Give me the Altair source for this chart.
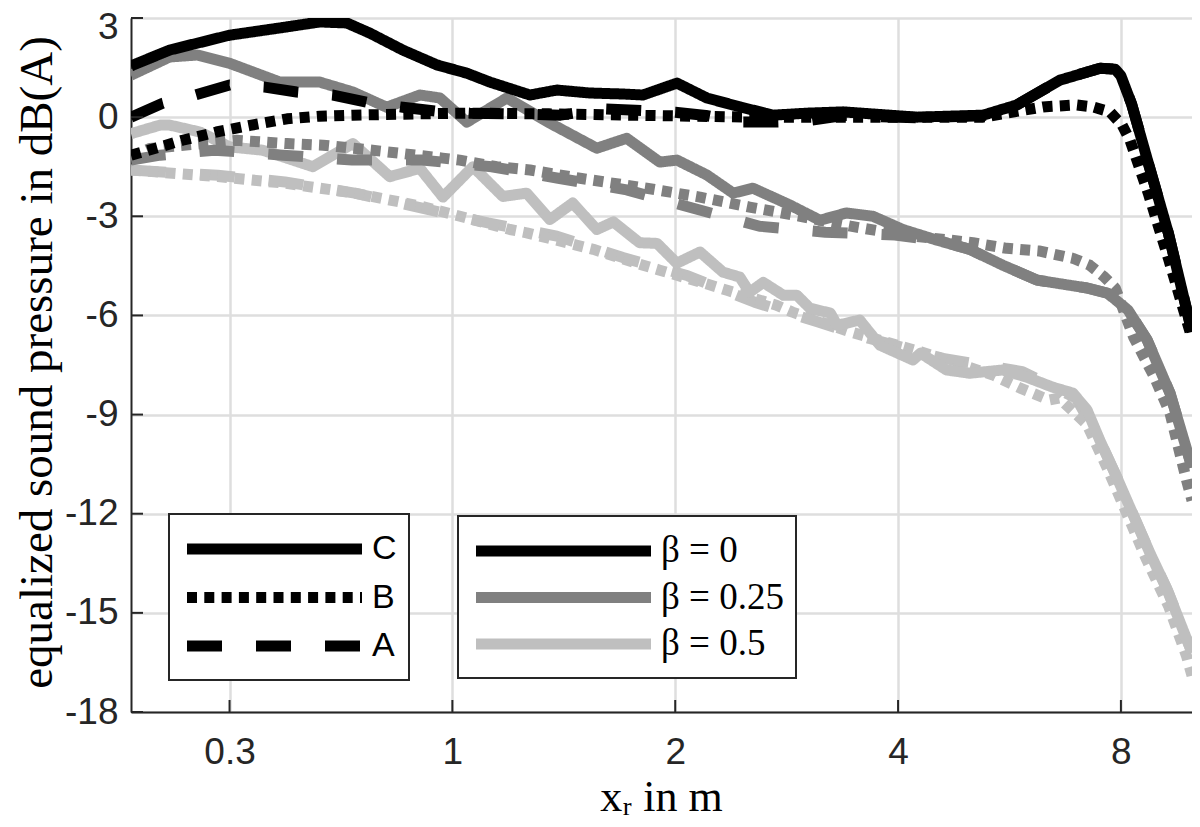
import altair as alt
import pandas as pd

# ---- categories / styles ----
beta_labels = ["β = 0", "β = 0.25", "β = 0.5"]
beta_colors = ["#000000", "#808080", "#bfbfbf"]
model_labels = ["C", "B", "A"]
dash_patterns = [[1, 0], [10, 7.3], [35, 34]]

x_ticks = [0.5, 1, 2, 4, 8]
x_tick_labels = ["0.3", "1", "2", "4", "8"]
y_ticks = [-18, -15, -12, -9, -6, -3, 0, 3]

# ---- beta = 0 ----
c0_x = [0.368, 0.415, 0.50, 0.585, 0.662, 0.720, 0.774, 0.857, 0.953, 1.046, 1.124, 1.273, 1.384, 1.534,
        1.700, 1.809, 2.011, 2.207, 2.446, 2.711, 3.013, 3.37, 4.243, 5.21, 5.79, 6.62, 7.50, 7.86, 8.0,
        8.27, 8.74, 9.27, 9.98]
c0_y = [1.55, 2.03, 2.48, 2.70, 2.88, 2.85, 2.54, 2.03, 1.58, 1.33, 1.06, 0.67, 0.82, 0.73, 0.70, 0.67,
        1.03, 0.58, 0.31, 0.06, 0.12, 0.16, 0.0, 0.06, 0.37, 1.12, 1.48, 1.45, 1.25, 0.4, -1.5, -3.5, -6.5]
a0_x = [0.368, 0.406, 0.449, 0.50, 0.558, 0.616, 0.690, 0.766, 0.857, 0.95, 1.056, 1.2, 1.4, 1.6, 1.8,
        2.0, 2.2, 2.45, 2.7, 3.0, 3.37, 4.243, 5.21, 5.79, 6.62, 7.50, 7.86, 8.0, 8.27, 8.74, 9.27, 9.98]
a0_y = [0.0, 0.42, 0.67, 0.97, 0.91, 0.76, 0.67, 0.45, 0.30, 0.18, 0.12, 0.10, 0.06, 0.25, 0.2, 0.15,
        0.05, -0.15, -0.15, -0.12, 0.05, -0.02, 0.04, 0.37, 1.12, 1.48, 1.45, 1.25, 0.4, -1.5, -3.5, -6.5]
b0_x = [0.368, 0.403, 0.432, 0.48, 0.533, 0.598, 0.662, 0.734, 0.904, 1.056, 1.35, 1.85, 2.52, 3.45,
        5.21, 6.28, 6.96, 7.33, 7.73, 8.03, 8.23, 8.71, 9.28, 9.98]
b0_y = [-1.15, -0.9, -0.7, -0.45, -0.25, -0.05, 0.03, 0.06, 0.1, 0.12, 0.1, 0.05, 0.0, 0.0, 0.0, 0.31,
        0.37, 0.31, 0.16, -0.24, -0.7, -2.3, -4.3, -6.7]

# ---- beta = 0.25 ----
c1_x = [0.368, 0.415, 0.452, 0.50, 0.585, 0.662, 0.734, 0.815, 0.904, 0.962, 1.046, 1.185, 1.354, 1.567,
        1.72, 1.906, 2.011, 2.207, 2.395, 2.547, 2.858, 3.137, 3.404, 3.70, 4.06, 4.51, 5.0, 5.54, 6.16,
        7.20, 7.68, 8.18, 8.68, 9.32, 9.98]
c1_y = [1.27, 1.82, 1.88, 1.63, 1.06, 1.06, 0.76, 0.3, 0.67, 0.58, -0.15, 0.58, -0.18, -0.94, -0.64,
        -1.36, -1.3, -1.75, -2.3, -2.15, -2.66, -3.12, -2.9, -3.0, -3.4, -3.72, -4.0, -4.48, -4.93, -5.17,
        -5.33, -5.84, -6.74, -8.35, -10.6]
a1_x = [0.368, 0.403, 0.477, 0.59, 0.732, 0.91, 1.13, 1.39, 1.72, 2.11, 2.6, 3.19, 3.96, 4.51, 5.0,
        5.54, 6.16, 7.20, 7.68, 8.18, 8.68, 9.32, 9.98]
a1_y = [-1.3, -1.15, -1.0, -1.15, -1.3, -1.3, -1.5, -1.85, -2.2, -2.75, -3.3, -3.48, -3.57, -3.72, -4.0,
        -4.48, -4.93, -5.17, -5.33, -5.84, -6.74, -8.35, -10.6]
b1_x = [0.368, 0.39, 0.511, 0.598, 0.669, 0.78, 0.97, 1.023, 1.148, 1.273, 1.487, 1.83, 2.16, 2.52, 2.95,
        3.45, 4.02, 5.05, 5.61, 6.2, 6.89, 7.26, 7.6, 7.86, 8.32, 8.88, 9.32, 9.81, 9.98]
b1_y = [-1.2, -0.95, -0.7, -0.8, -0.85, -1.0, -1.24, -1.3, -1.5, -1.6, -1.85, -2.15, -2.42, -2.72, -3.0,
        -3.3, -3.55, -3.8, -3.97, -4.05, -4.27, -4.48, -4.84, -5.17, -6.65, -7.87, -8.96, -10.98, -11.6]

# ---- beta = 0.5 ----
c2_x = [0.368, 0.403, 0.415, 0.456, 0.50, 0.554, 0.609, 0.648, 0.734, 0.823, 0.904, 0.971, 1.066, 1.17,
        1.26, 1.354, 1.454, 1.567, 1.65, 1.79, 1.89, 2.01, 2.16, 2.32, 2.445, 2.52, 2.63, 2.8, 2.92, 3.04,
        3.24, 3.31, 3.55, 3.78, 4.19, 4.29, 4.65, 5.0, 5.54, 5.97, 6.47, 6.89, 7.2, 7.5, 7.9, 8.3, 8.76,
        9.24, 9.7, 9.98]
c2_y = [-0.5, -0.24, -0.24, -0.45, -0.9, -1.0, -1.3, -1.5, -0.8, -1.8, -1.55, -2.42, -1.5, -2.4, -2.3,
        -3.1, -2.6, -3.4, -3.17, -3.8, -3.82, -4.42, -4.08, -4.69, -4.84, -5.3, -5.0, -5.39, -5.39, -5.78,
        -5.93, -6.3, -6.14, -6.9, -7.35, -7.14, -7.65, -7.75, -7.65, -7.87, -8.17, -8.35, -8.86, -9.8,
        -10.9, -12.0, -13.2, -14.3, -15.5, -16.2]
a2_x = [0.368, 0.482, 0.594, 0.738, 0.91, 1.066, 1.117, 1.384, 1.70, 2.08, 2.56, 3.12, 3.66, 4.6, 5.89,
        6.96, 7.5, 7.9, 8.3, 8.76, 9.24, 9.7, 9.98]
a2_y = [-1.6, -1.76, -1.96, -2.3, -2.75, -3.1, -3.2, -3.6, -4.25, -4.8, -5.6, -6.2, -6.7, -7.3, -7.7,
        -8.5, -9.8, -10.9, -12.0, -13.2, -14.3, -15.5, -16.2]
b2_x = [0.368, 0.482, 0.594, 0.738, 0.91, 1.024, 1.196, 1.26, 1.47, 1.55, 1.81, 1.906, 2.23, 2.35, 2.74,
        2.88, 3.45, 4.29, 5.37, 5.85, 6.4, 6.6, 7.2, 7.66, 8.15, 8.67, 9.28, 9.81, 9.98]
b2_y = [-1.6, -1.8, -2.0, -2.3, -2.7, -3.0, -3.4, -3.5, -3.87, -4.0, -4.48, -4.63, -5.08, -5.24, -5.69,
        -5.9, -6.5, -7.1, -7.8, -8.2, -8.56, -8.5, -9.3, -10.6, -12.0, -13.4, -14.8, -16.3, -16.9]

# draw order: light first, black last
series = [
    (2, "A", a2_x, a2_y), (2, "B", b2_x, b2_y), (2, "C", c2_x, c2_y),
    (1, "A", a1_x, a1_y), (1, "B", b1_x, b1_y), (1, "C", c1_x, c1_y),
    (0, "A", a0_x, a0_y), (0, "B", b0_x, b0_y), (0, "C", c0_x, c0_y),
]
rows = []
for order, (bi, model, xs, ys) in enumerate(series):
    for xv, yv in zip(xs, ys):
        rows.append({"x": xv, "y": yv, "beta": beta_labels[bi], "model": model, "grp": order})
df = pd.DataFrame(rows)

x_label_expr = " : ".join(
    f"datum.value == {v} ? '{lab}'" for v, lab in zip(x_ticks, x_tick_labels)
) + " : ''"

X_DOMAIN = [0.368, 9.98]
Y_DOMAIN = [-18, 3]
W, H = 1061, 694
AX = "#262626"

# long legend line: custom path 10 units long, scaled by sqrt(size)/2
LEG_PATH = "M0,0H10"
LEG_SIZE = 1225

x_scale = alt.Scale(type="log", base=2, domain=X_DOMAIN, nice=False)
y_scale = alt.Scale(domain=Y_DOMAIN, nice=False, zero=False)

lines = alt.Chart(df).mark_line(strokeWidth=11, clip=True, strokeJoin="round").encode(
    x=alt.X("x:Q", scale=x_scale,
            axis=alt.Axis(values=x_ticks, labelExpr=x_label_expr, title="xᵣ in m",
                          titleFont="Liberation Serif", titleFontSize=44, titleFontWeight="normal",
                          titleColor="black", titleX=530, titleY=98, titleBaseline="alphabetic",
                          labelFont="Liberation Sans", labelFontSize=37, labelColor=AX,
                          labelBaseline="alphabetic", labelPadding=51, ticks=False, tickSize=0,
                          labelOverlap=False, labelFlush=False,
                          domainColor=AX, domainWidth=2, grid=True, gridColor="#dedede", gridWidth=2.5)),
    y=alt.Y("y:Q", scale=y_scale,
            axis=alt.Axis(values=y_ticks, labelExpr="'' + datum.value",
                          title="equalized sound pressure in dB(A)",
                          titleFont="Liberation Serif", titleFontSize=47, titleFontWeight="normal",
                          titleColor="black", titleX=-80, titleY=344, titleBaseline="alphabetic",
                          titleAngle=270,
                          labelFont="Liberation Sans", labelFontSize=37, labelColor=AX,
                          labelOffset={"condition": {"test": "datum.value == 3", "value": 9}, "value": 0},
                          labelPadding=13, ticks=False, tickSize=0, labelOverlap=False, labelFlush=False,
                          domainColor=AX, domainWidth=2, grid=True, gridColor="#dedede", gridWidth=2.5)),
    color=alt.Color("beta:N", scale=alt.Scale(domain=beta_labels, range=beta_colors),
                    legend=alt.Legend(title=None, orient="none", legendX=327, legendY=498,
                                      symbolType=LEG_PATH, symbolSize=LEG_SIZE, symbolStrokeWidth=11,
                                      symbolOffset=-17,
                                      labelFont="Liberation Serif", labelFontSize=37, labelColor="black",
                                      padding=12, rowPadding=1.5, labelOffset=162, labelLimit=400,
                                      fillColor="white", strokeColor=AX)),
    strokeDash=alt.StrokeDash("model:N", scale=alt.Scale(domain=model_labels, range=dash_patterns),
                              legend=alt.Legend(title=None, orient="none", legendX=38, legendY=496,
                                                symbolType=LEG_PATH, symbolSize=LEG_SIZE,
                                                symbolStrokeWidth=11, symbolOffset=-17,
                                                symbolStrokeColor="black",
                                                labelFont="Liberation Sans", labelFontSize=34,
                                                labelColor="black", padding=12, rowPadding=3.5,
                                                labelOffset=162, labelLimit=400,
                                                fillColor="white", strokeColor=AX)),
    detail="grp:N",
    order=alt.Order("x:Q"),
)

xt_df = pd.DataFrame({"x": x_ticks})
yt_df = pd.DataFrame({"y": y_ticks})
x_tick_marks = alt.Chart(xt_df).mark_rule(color=AX, strokeWidth=2).encode(
    x=alt.X("x:Q", scale=x_scale), y=alt.value(H), y2=alt.value(H - 12)
)
y_tick_marks = alt.Chart(yt_df).mark_rule(color=AX, strokeWidth=2).encode(
    y=alt.Y("y:Q", scale=y_scale), x=alt.value(0), x2=alt.value(12)
)

chart = alt.layer(lines, x_tick_marks, y_tick_marks).properties(
    width=W, height=H,
    autosize=alt.AutoSizeParams(type="none"),
    padding={"left": 123, "top": 10, "right": 0, "bottom": 107},
    background="white",
).configure_view(stroke=None).configure_legend(strokeWidth=2)

chart.save("out.html", embed_options={"renderer": "svg", "actions": False})
